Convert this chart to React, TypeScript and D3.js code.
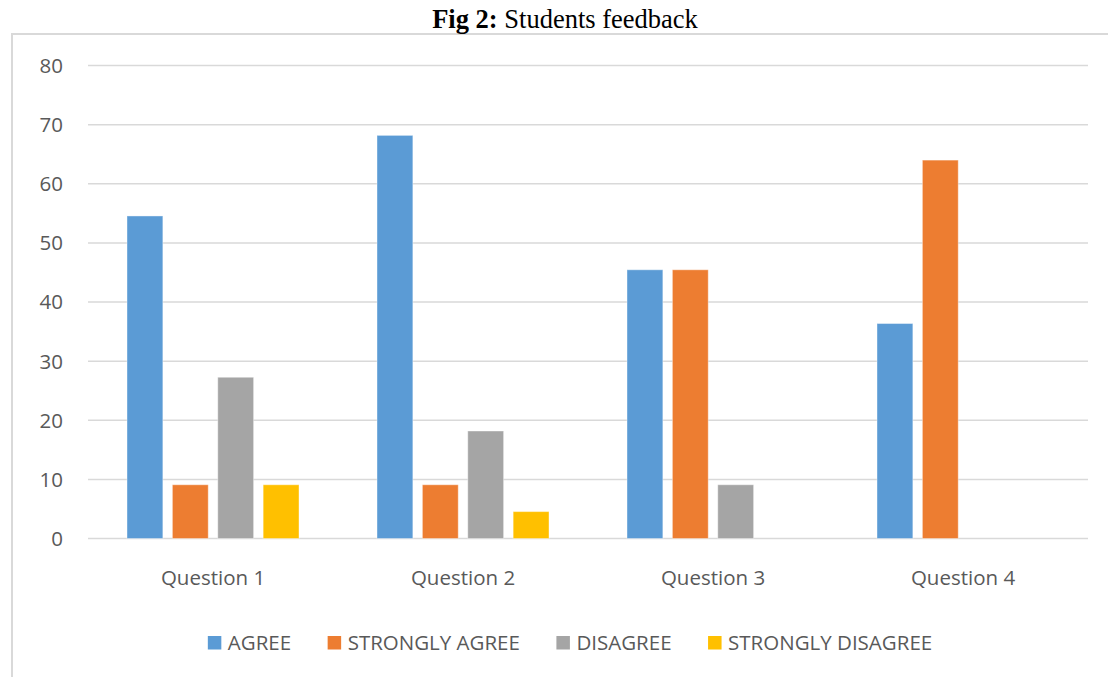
import React, { useEffect, useRef } from "react";
import * as d3 from "d3";

const categories = ["Question 1", "Question 2", "Question 3", "Question 4"];
const seriesNames = ["AGREE", "STRONGLY AGREE", "DISAGREE", "STRONGLY DISAGREE"];
const agree = [54.55, 68.18, 45.45, 36.36];
const stronglyAgree = [9.09, 9.09, 45.45, 64];
const disagree = [27.27, 18.18, 9.09, 0];
const stronglyDisagree = [9.09, 4.55, 0, 0];
const yTicks = [0, 10, 20, 30, 40, 50, 60, 70, 80];
const colors = ["#5B9BD5", "#ED7D31", "#A5A5A5", "#FFC000"];

const W = 1108;
const H = 677;
const FONT = "'Open Sans', sans-serif";

export default function App() {
  const ref = useRef<SVGSVGElement | null>(null);

  useEffect(() => {
    const svg = d3.select(ref.current);
    svg.selectAll("*").remove();
    const values = [agree, stronglyAgree, disagree, stronglyDisagree];

    const left = 88, right = 1088, top = 65.5, bottom = 538.5;
    const x0 = d3.scaleBand<string>().domain(categories).range([left, right]).padding(0);
    const groupW = 172;
    const x1 = d3.scaleBand<string>().domain(seriesNames).range([-groupW / 2, groupW / 2]).paddingInner(0.21).paddingOuter(0);
    const y = d3.scaleLinear().domain([0, 80]).range([bottom, top]);

    // frame
    svg.append("rect").attr("x", 12).attr("y", 34).attr("width", W + 20).attr("height", H + 20)
      .attr("fill", "white").attr("stroke", "#d9d9d9").attr("stroke-width", 2);

    // title
    const title = svg.append("text").attr("x", 565).attr("y", 28).attr("text-anchor", "middle")
      .attr("font-family", "'Liberation Serif', 'Times New Roman', serif").attr("font-size", 26.5).attr("fill", "#000");
    title.append("tspan").attr("font-weight", "bold").text("Fig 2:");
    title.append("tspan").text(" Students feedback");

    // grid
    svg.append("g").selectAll("line").data(yTicks).join("line")
      .attr("x1", left).attr("x2", right)
      .attr("y1", (d) => y(d)).attr("y2", (d) => y(d))
      .attr("stroke", "#d9d9d9").attr("stroke-width", 1.5);

    // y labels
    svg.append("g").selectAll("text").data(yTicks).join("text")
      .attr("x", 63).attr("y", (d) => y(d)).attr("dy", "0.36em")
      .attr("text-anchor", "end").attr("font-family", FONT).attr("font-size", 20.5)
      .attr("fill", "#595959").text((d) => String(d));

    // bars
    seriesNames.forEach((s, si) => {
      svg.append("g").selectAll("rect").data(values[si]).join("rect")
        .attr("x", (_d, i) => (x0(categories[i]) as number) + x0.bandwidth() / 2 + (x1(s) as number))
        .attr("width", x1.bandwidth())
        .attr("y", (d) => y(d))
        .attr("height", (d) => y(0) - y(d))
        .attr("fill", colors[si])
        .attr("stroke", "white").attr("stroke-opacity", 0.4).attr("stroke-width", 1);
    });

    // x labels
    svg.append("g").selectAll("text").data(categories).join("text")
      .attr("x", (d) => (x0(d) as number) + x0.bandwidth() / 2).attr("y", 585)
      .attr("text-anchor", "middle").attr("font-family", FONT).attr("font-size", 20.5)
      .attr("fill", "#595959").text((d) => d);

    // legend
    const lg = svg.append("g");
    const items = lg.selectAll("g").data(seriesNames).join("g");
    items.append("rect").attr("width", 13.5).attr("height", 13.5).attr("y", 636)
      .attr("fill", (_d, i) => colors[i]);
    items.append("text").attr("x", 20).attr("y", 650).attr("font-family", FONT).attr("font-size", 20.5)
      .attr("fill", "#595959").text((d) => d);
    const widths: number[] = [];
    items.each(function () {
      const t = d3.select(this).select("text").node() as SVGTextElement;
      widths.push(20 + t.getComputedTextLength());
    });
    const gap = 36.5;
    const total = d3.sum(widths) + gap * (widths.length - 1);
    let cx = 570 - total / 2;
    items.attr("transform", (_d, i) => {
      const tx = cx;
      cx += widths[i] + gap;
      return `translate(${tx},0)`;
    });
  }, []);

  return (
    <svg ref={ref} width={W} height={H}
      style={{ position: "absolute", left: 0, top: 0, display: "block", background: "white" }} />
  );
}
